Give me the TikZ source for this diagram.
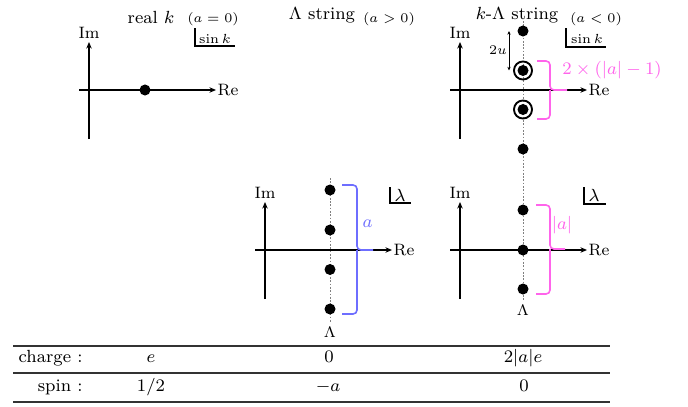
\documentclass[tikz,border=0pt]{standalone}
\usepackage{amsmath,amssymb}
\usetikzlibrary{arrows.meta,positioning}
\definecolor{bracepink}{RGB}{255,100,235}
\definecolor{braceblue}{RGB}{110,110,255}

\begin{document}
\begin{tikzpicture}[x=0.4545pt, y=-0.4545pt, >=Stealth, every node/.style={inner sep=0pt},
  axisline/.style={line width=0.95pt, -{Stealth[length=3pt,width=2.5pt]}},
  root/.style={circle, fill=black, inner sep=0pt, minimum size=5pt},
  ring/.style={circle, draw=black, line width=0.85pt, inner sep=0pt, minimum size=8.2pt},
  string/.style={gray, line width=0.45pt, dash pattern=on 0.8pt off 0.7pt},
  brc/.style={line width=0.75pt, rounded corners=1.8pt},
  cornerbox/.style={line width=0.7pt},
  hrule/.style={line width=0.65pt, black!80},
  head/.style={anchor=base, font=\fontsize{8}{9.6}\selectfont},
  lab/.style={anchor=base, font=\fontsize{6}{7.2}\selectfont},
  axlab/.style={font=\fontsize{7.5}{9}\selectfont},
  colorlab/.style={anchor=base, font=\fontsize{8}{9.6}\selectfont},
  tabtext/.style={anchor=base, font=\fontsize{8}{9.6}\selectfont}]
  \useasboundingbox (0,0) rectangle (688,407);

  % Strings
  \node[anchor=base, font=\fontsize{7}{8.4}\selectfont] (lam2) at (330,338) {$\Lambda$};
  \node[anchor=base, font=\fontsize{7}{8.4}\selectfont] (lam3) at (523,315) {$\Lambda$};
  \coordinate (top2) at (330,178);
  \coordinate (top3) at (523,21);
  \draw[string] (top2) -- ([yshift=2pt]lam2.north);
  \draw[string] (top3) -- ([yshift=2pt]lam3.north);

  % Axes
  \foreach \ox/\oy/\n in {89/90/a, 460/90/b, 265/250/c, 460/250/d}{
    \draw[axisline] (\ox-10,\oy) -- (\ox+127,\oy) node[axlab, anchor=west, xshift=0.3pt] (re\n) {Re};
    \draw[axisline] (\ox,\oy+49) -- (\ox,\oy-48) node[axlab, anchor=south, yshift=1.2pt] (im\n) {Im};
  }

  % real k
  \node[root] (k1) at (145,90) {};

  % Lambda string
  \foreach \y [count=\i] in {190,230,269.5,309}
    \node[root] (l\i) at (330,\y) {};

  % k-Lambda string
  \node[root] (s1) at (523,31) {};
  \node[ring] (r1) at (523,70.5) {};
  \node[ring] (r2) at (523,109.5) {};
  \node[root] at (r1) {};
  \node[root] at (r2) {};
  \node[root] (s2) at (523,149) {};
  \foreach \y [count=\i] in {210,250,289}
    \node[root] (m\i) at (523,\y) {};

  \coordinate (u) at (509,0);
  \draw[{Stealth[length=1.7pt,width=1.5pt]}-{Stealth[length=1.7pt,width=1.5pt]}, line width=0.45pt] (u |- s1) -- (u |- r1);
  \node[lab] (twou) at (498,55) {$2u$};

  % Braces
  \draw[brc, braceblue] (342,185) -- (357,185) -- (357,250) -- (373,250);
  \draw[brc, braceblue] (342,314) -- (357,314) -- (357,250);
  \node[colorlab, braceblue] (na) at (367.5,227) {$a$};

  \draw[brc, bracepink] (537,61) -- (550,61) -- (550,90) -- (567,90);
  \draw[brc, bracepink] (537,119) -- (550,119) -- (550,90);
  \node[colorlab, bracepink] (nb) at (612,75) {$2\times(|a|-1)$};

  \draw[brc, bracepink] (536,205) -- (550,205) -- (550,249) -- (565,249);
  \draw[brc, bracepink] (536,294) -- (550,294) -- (550,249);
  \node[colorlab, bracepink] (nc) at (562,229) {$|a|$};

  % Titles
  \node[head] (t1) at (151,23) {real $k$};
  \node[lab] (c1) at (213,22) {$(a=0)$};
  \node[head] (t2) at (322,20) {$\Lambda$ string};
  \node[lab] (c2) at (389,22) {$(a>0)$};
  \node[head] (t3) at (517,20) {$k$-$\Lambda$ string};
  \node[lab] (c3) at (596,22) {$(a<0)$};

  % Planes
  \draw[cornerbox] (195,28) |- (235,46);
  \node[lab] (z1) at (215,43) {$\sin k$};
  \draw[cornerbox] (566,28) |- (606,47);
  \node[lab] (z3) at (587,43) {$\sin k$};
  \draw[cornerbox] (390,187) |- (411,203);
  \node[head] (w2) at (400,201) {$\lambda$};
  \draw[cornerbox] (584,187) |- (606,204);
  \node[head] (w3) at (594,201) {$\lambda$};

  % Table
  \draw[hrule] (13,346) -- (610,346);
  \draw[hrule] (13,373) -- (610,373);
  \draw[hrule] (13,402) -- (610,402);
  \node[tabtext, anchor=base east] (chg) at (83,362) {charge :};
  \node[tabtext, anchor=base east] (spn) at (83,391) {spin :};
  \node[tabtext] (e1) at (151,362) {$e$};
  \node[tabtext] (e2) at (329,362) {$0$};
  \node[tabtext] (e3) at (523,362) {$2|a|e$};
  \node[tabtext] (f1) at (151,391) {$1/2$};
  \node[tabtext] (f2) at (328,391) {$-a$};
  \node[tabtext] (f3) at (524,391) {$0$};
\end{tikzpicture}
\end{document}
